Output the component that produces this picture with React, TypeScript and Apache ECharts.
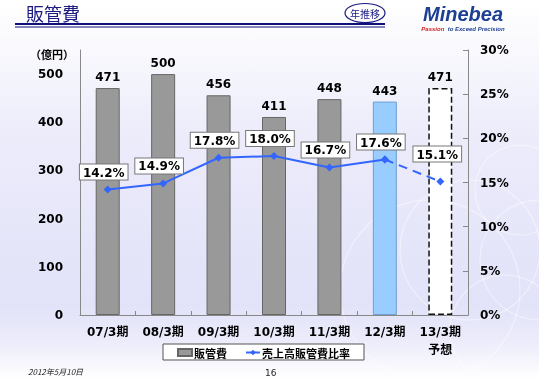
import React, { useEffect, useRef } from "react";
import * as echarts from "echarts";

const categories = ["07/3期", "08/3期", "09/3期", "10/3期", "11/3期", "12/3期", "13/3期\n予想"];
const sgaValues = [471, 500, 456, 411, 448, 443, 471];
const ratioValues = [14.2, 14.9, 17.8, 18.0, 16.7, 17.6, 15.1];
const leftTicks = [0, 100, 200, 300, 400, 500];
const rightTicks = [0, 5, 10, 15, 20, 25, 30];

const FONT = "'DejaVu Sans', 'Noto Sans CJK JP', sans-serif";
const JP = "'Noto Sans CJK JP', 'DejaVu Sans', sans-serif";

export default function App() {
  const ref = useRef<HTMLDivElement>(null);
  useEffect(() => {
    if (!ref.current) return;
    const chart = echarts.init(ref.current, undefined, { renderer: "svg" });
    const n = categories.length;
    const barData = sgaValues.map((v, i) => {
      if (i === n - 1)
        return {
          value: v,
          itemStyle: { color: "#ffffff", borderColor: "#111", borderWidth: 1.5, borderType: [6, 3] as any },
        };
      if (i === n - 2)
        return { value: v, itemStyle: { color: "#99ccff", borderColor: "#6f9fd0", borderWidth: 1 } };
      return { value: v };
    });
    const solid = ratioValues.map((v, i) => (i < n - 1 ? v : null));
    const dashed = ratioValues.map((v, i) =>
      i === n - 2 ? { value: v, label: { show: false } } : i === n - 1 ? { value: v, label: { offset: [-3, -10] } } : null
    );
    const pctLabel = {
      show: true,
      position: "top",
      distance: 6,
      offset: [-4, 0],
      formatter: (p: any) => Number(p.value).toFixed(1) + "%",
      backgroundColor: "#ffffff",
      borderColor: "#777",
      borderWidth: 1,
      padding: [2, 3, 1, 3],
      color: "#000",
      fontWeight: "bold",
      fontSize: 12,
      fontFamily: FONT,
    };
    const circles = [
      [470, 250, 70],
      [520, 190, 45],
      [505, 330, 55],
      [430, 290, 90],
      [540, 260, 60],
    ].map(([cx, cy, r]) => ({
      type: "circle",
      z: -9,
      silent: true,
      shape: { cx, cy, r },
      style: { fill: "none", stroke: "rgba(255,255,255,0.45)", lineWidth: 1.2 },
    }));
    chart.setOption({
      animation: false,
      textStyle: { fontFamily: FONT },
      grid: { left: 80, right: 71, top: 50, bottom: 65 },
      graphic: [
        {
          type: "rect",
          z: -10,
          silent: true,
          shape: { x: 0, y: 0, width: 539, height: 380 },
          style: {
            fill: new echarts.graphic.LinearGradient(0, 0, 0, 1, [
              { offset: 0, color: "#ffffff" },
              { offset: 0.09, color: "#fbfbfe" },
              { offset: 0.35, color: "#ececfb" },
              { offset: 0.8, color: "#e2e2f9" },
              { offset: 0.9, color: "#ececfb" },
              { offset: 1, color: "#ffffff" },
            ]),
          },
        },
        ...circles,
        {
          type: "text",
          left: 26,
          top: 4,
          style: { text: "販管費", font: `18px ${JP}`, fill: "#1a1a80" },
        },
        { type: "rect", shape: { x: 15, y: 23, width: 370, height: 2 }, style: { fill: "#10107a" } },
        { type: "rect", shape: { x: 15, y: 26.5, width: 370, height: 1 }, style: { fill: "#10107a" } },
        {
          type: "ellipse",
          shape: { cx: 365, cy: 13, rx: 20, ry: 9.5 },
          style: { fill: "#ffffff", stroke: "#1a1a80", lineWidth: 1.2 },
        },
        {
          type: "text",
          x: 365,
          y: 13,
          style: { text: "年推移", font: `10px ${JP}`, fill: "#1a1a80", align: "center", verticalAlign: "middle" },
        },
        {
          type: "text",
          x: 463,
          y: 4,
          style: {
            text: "Minebea",
            align: "center",
            font: `italic 900 20px 'Liberation Sans', sans-serif`,
            fill: "#1c3f94",
          },
        },
        {
          type: "text",
          x: 463,
          y: 23,
          style: {
            text: "{r|Passion} {b|to Exceed Precision}",
            align: "center",
            rich: {
              r: { font: `italic bold 6px 'Liberation Sans', sans-serif`, fill: "#d02020", color: "#d02020" },
              b: { font: `italic bold 6px 'Liberation Sans', sans-serif`, fill: "#1c3f94", color: "#1c3f94" },
            },
          },
        },
        {
          type: "text",
          x: 30,
          y: 48,
          style: { text: "（億円）", font: `bold 11px ${JP}`, fill: "#000" },
        },
        {
          type: "text",
          x: 28,
          y: 367,
          style: { text: "2012年5月10日", font: `italic 8px ${JP}`, fill: "#222" },
        },
        {
          type: "text",
          x: 265,
          y: 368,
          style: { text: "16", font: `9px 'DejaVu Sans', sans-serif`, fill: "#222" },
        },
      ],
      legend: {
        left: 163,
        top: 344,
        backgroundColor: "#ffffff",
        borderColor: "#555",
        borderWidth: 1,
        borderRadius: 0,
        padding: [3, 14, 2, 14],
        itemGap: 18,
        itemWidth: 14,
        itemHeight: 7,
        data: [
          { name: "販管費", icon: "rect" },
          { name: "売上高販管費比率" },
        ],
        textStyle: { fontFamily: JP, fontWeight: "bold", fontSize: 11, color: "#000", padding: [0, 0, 0, -3] },
      },
      xAxis: {
        type: "category",
        data: categories,
        axisLine: { lineStyle: { color: "#888", width: 1 } },
        axisTick: { show: true, inside: true, length: 4, lineStyle: { color: "#888" } },
        axisLabel: {
          margin: 8,
          color: "#000",
          fontWeight: "bold",
          fontSize: 12,
          lineHeight: 18,
          fontFamily: FONT,
          interval: 0,
        },
      },
      yAxis: [
        {
          type: "value",
          min: 0,
          max: 550,
          interval: 50,
          splitLine: { show: false },
          axisLine: { show: true, lineStyle: { color: "#888" } },
          axisTick: { show: false },
          axisLabel: {
            margin: 17,
            color: "#000",
            fontWeight: "bold",
            fontSize: 12,
            fontFamily: FONT,
            formatter: (v: number) => (leftTicks.includes(v) ? String(v) : ""),
          },
        },
        {
          type: "value",
          min: 0,
          max: 30,
          interval: 5,
          splitLine: { show: false },
          axisLine: { show: true, lineStyle: { color: "#888" } },
          axisTick: { show: true, inside: true, length: 5, lineStyle: { color: "#888" } },
          axisLabel: {
            margin: 12,
            color: "#000",
            fontWeight: "bold",
            fontSize: 12,
            fontFamily: FONT,
            formatter: (v: number) => (rightTicks.includes(v) ? v + "%" : ""),
          },
        },
      ],
      series: [
        {
          name: "販管費",
          type: "bar",
          data: barData,
          barWidth: 24,
          itemStyle: { color: "#999999", borderColor: "#666", borderWidth: 1 },
          label: {
            show: true,
            position: "top",
            distance: 5,
            color: "#000",
            fontWeight: "bold",
            fontSize: 12,
            fontFamily: FONT,
          },
          z: 2,
        },
        {
          name: "売上高販管費比率",
          type: "line",
          yAxisIndex: 1,
          data: solid,
          symbol: "diamond",
          symbolSize: 8,
          color: "#3366ff",
          lineStyle: { color: "#3366ff", width: 2 },
          itemStyle: { color: "#3366ff" },
          label: pctLabel,
          z: 5,
        },
        {
          name: "予想比率",
          type: "line",
          yAxisIndex: 1,
          data: dashed,
          symbol: "diamond",
          symbolSize: 8,
          color: "#3366ff",
          lineStyle: { color: "#3366ff", width: 2, type: [9, 6] },
          itemStyle: { color: "#3366ff" },
          label: pctLabel,
          z: 4,
        },
      ],
    });
    return () => chart.dispose();
  }, []);
  return <div ref={ref} style={{ position: "fixed", left: 0, top: 0, width: 539, height: 380 }} />;
}
